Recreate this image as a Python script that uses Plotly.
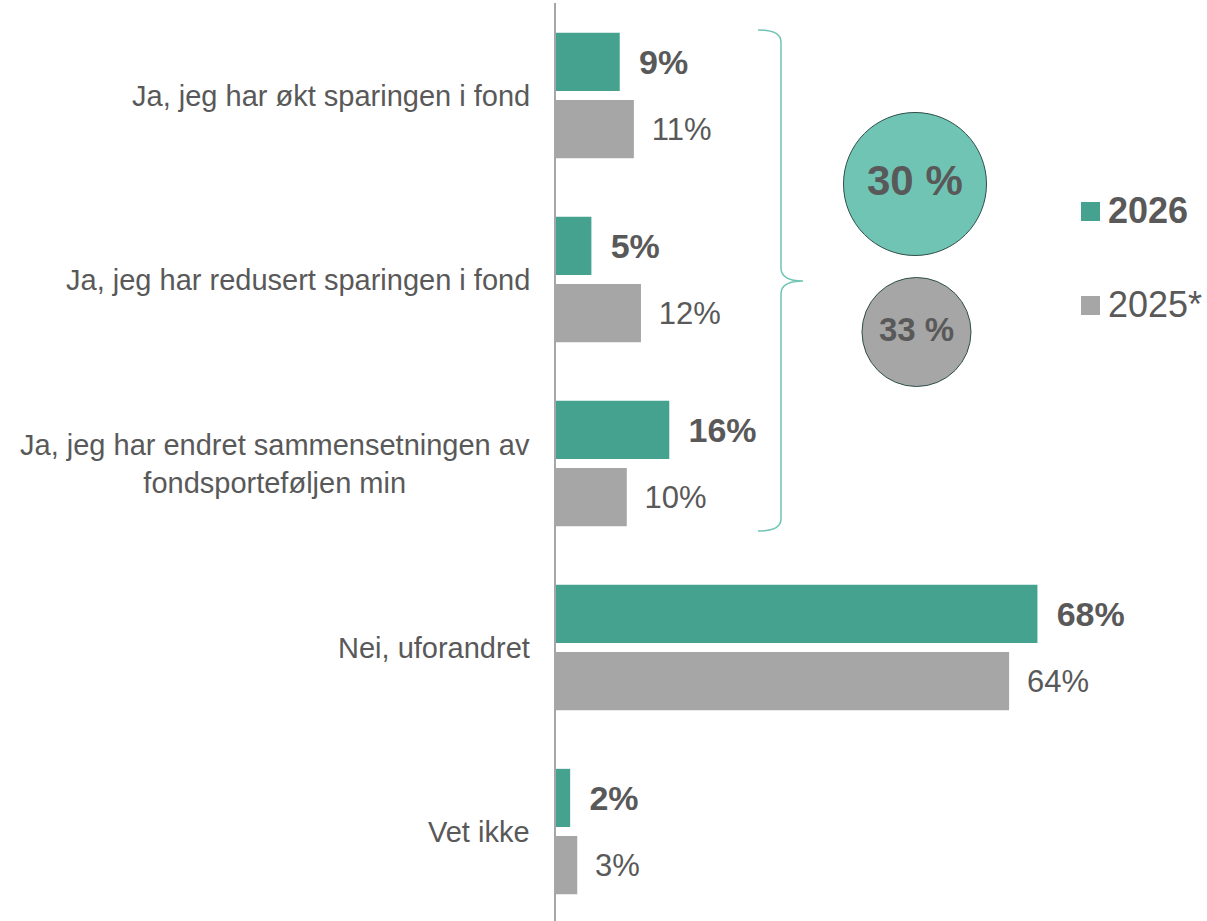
import plotly.graph_objects as go

categories = [
    "Ja, jeg har økt sparingen i fond",
    "Ja, jeg har redusert sparingen i fond",
    "Ja, jeg har endret sammensetningen av<br>fondsporteføljen min",
    "Nei, uforandret",
    "Vet ikke",
]
values_2026 = [9, 5, 16, 68, 2]
values_2025 = [11, 12, 10, 64, 3]
series_names = ["2026", "2025*"]
summary_2026 = "30 %"
summary_2025 = "33 %"

W, H = 1207, 921
ML, MR, MT, MB = 556, 0, 3, 0
PW, PH = W - ML - MR, H - MT - MB
PX_PER_UNIT = 7.08
PX_PER_CAT = 184.0

TEAL = "#45a28f"
LIGHT_TEAL = "#70c4b4"
GRAY = "#a6a6a6"
TXT = "#595959"
FONT = "Liberation Sans, Arial, sans-serif"


def px(x):
    return (x - ML) / PW


def py(y):
    return 1 - (y - MT) / PH


ypos = list(range(len(categories)))
pad = "\u00a0\u2009"

fig = go.Figure()
fig.add_trace(go.Bar(
    y=ypos, x=values_2026, orientation="h", name=series_names[0],
    marker=dict(color=TEAL, line=dict(width=0)),
    text=[f"{pad}{v}%" for v in values_2026], textposition="outside",
    textfont=dict(family=FONT, size=34, color=TXT, weight="bold"),
    constraintext="none", cliponaxis=False,
))
fig.add_trace(go.Bar(
    y=ypos, x=values_2025, orientation="h", name=series_names[1],
    marker=dict(color=GRAY, line=dict(width=0)),
    text=[f"{pad}{v}%" for v in values_2025], textposition="outside",
    textfont=dict(family=FONT, size=31, color=TXT),
    constraintext="none", cliponaxis=False,
))

annotations = []
for i, c in enumerate(categories):
    annotations.append(dict(
        x=px(532), xref="paper", y=i, yref="y", text=c, showarrow=False,
        xanchor="right", yanchor="middle", align="center",
        font=dict(family=FONT, size=29, color=TXT),
    ))

shapes = []
# brace
pts = [(758, 30), (781, 30), (781, 42), (781, 268), (781, 281), (803, 281),
       (781, 281), (781, 294), (781, 519), (781, 531), (758, 531)]
P = [(px(a), py(b)) for a, b in pts]
path = (f"M {P[0][0]},{P[0][1]} Q {P[1][0]},{P[1][1]} {P[2][0]},{P[2][1]} "
        f"L {P[3][0]},{P[3][1]} Q {P[4][0]},{P[4][1]} {P[5][0]},{P[5][1]} "
        f"Q {P[6][0]},{P[6][1]} {P[7][0]},{P[7][1]} "
        f"L {P[8][0]},{P[8][1]} Q {P[9][0]},{P[9][1]} {P[10][0]},{P[10][1]}")
shapes.append(dict(type="path", xref="paper", yref="paper", path=path,
                   line=dict(color=LIGHT_TEAL, width=1.5)))

# circles
for cx, cy, r, fill, label, size, dy in [
    (915, 184, 71.5, LIGHT_TEAL, summary_2026, 42, -3.5),
    (916.5, 332, 54.5, GRAY, summary_2025, 33, -3),
]:
    shapes.append(dict(type="circle", xref="paper", yref="paper",
                       x0=px(cx - r), x1=px(cx + r), y0=py(cy + r), y1=py(cy - r),
                       fillcolor=fill, line=dict(color="#2f4f4a", width=1)))
    annotations.append(dict(x=px(cx), y=py(cy + dy), xref="paper", yref="paper",
                            text=f"<b>{label}</b>", showarrow=False,
                            xanchor="center", yanchor="middle",
                            font=dict(family=FONT, size=size, color=TXT)))

# legend
for (sy, color, name, bold) in [(211.5, TEAL, series_names[0], True),
                                (305.5, GRAY, series_names[1], False)]:
    shapes.append(dict(type="rect", xref="paper", yref="paper",
                       x0=px(1081), x1=px(1100), y0=py(sy + 9.5), y1=py(sy - 9.5),
                       fillcolor=color, line=dict(width=0)))
    annotations.append(dict(x=px(1106), y=py(sy - 1), xref="paper", yref="paper",
                            text=f"<b>{name}</b>" if bold else name, showarrow=False,
                            xanchor="left", yanchor="middle",
                            font=dict(family=FONT, size=36, color=TXT)))

r0 = -0.5 - (95.5 - MT - PX_PER_CAT / 2) / PX_PER_CAT
r1 = r0 + PH / PX_PER_CAT

fig.update_layout(
    width=W, height=H,
    margin=dict(l=ML, r=MR, t=MT, b=MB, pad=0),
    plot_bgcolor="white", paper_bgcolor="white",
    barmode="group", bargap=0.27, bargroupgap=0.134,
    showlegend=False,
    xaxis=dict(range=[0, PW / PX_PER_UNIT], visible=False, fixedrange=True),
    yaxis=dict(range=[r1, r0], showticklabels=False,
               showgrid=False, zeroline=False, showline=True,
               linecolor=GRAY, linewidth=2, ticks=""),
    annotations=annotations, shapes=shapes,
    font=dict(family=FONT, color=TXT),
)

fig.write_html(
    "out.html",
    config={"displayModeBar": False},
    post_script="document.body.style.margin='0';document.body.style.padding='0';"
                "document.documentElement.style.overflow='hidden';",
)
